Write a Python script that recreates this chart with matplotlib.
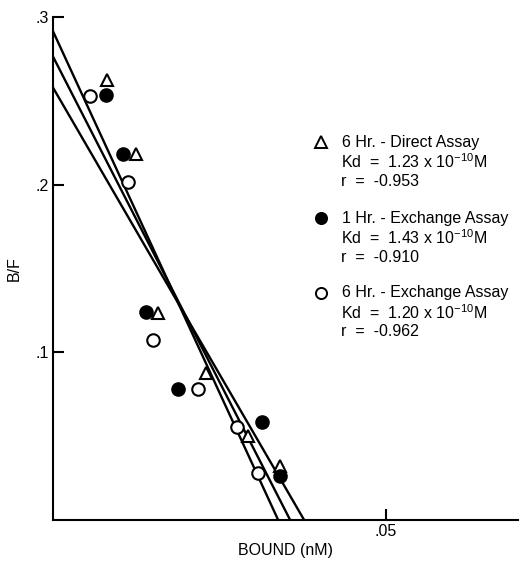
import numpy as np
import matplotlib
matplotlib.use("Agg")
import matplotlib.pyplot as plt

plt.rcParams['font.family'] = ['Liberation Sans', 'DejaVu Sans']
plt.rcParams['mathtext.fontset'] = 'custom'
plt.rcParams['mathtext.rm'] = 'Liberation Sans'

# Scatchard data: bound (nM) vs B/F
tri_x = [0.0081, 0.0125, 0.0158, 0.0229, 0.0293, 0.0341]
tri_y = [0.2627, 0.2185, 0.1236, 0.0878, 0.0501, 0.0322]

fill_x = [0.0080, 0.0105, 0.0140, 0.0187, 0.0314, 0.0340]
fill_y = [0.2537, 0.2185, 0.1242, 0.0782, 0.0585, 0.0263]

open_x = [0.0056, 0.0113, 0.0150, 0.0218, 0.0276, 0.0308]
open_y = [0.2531, 0.2018, 0.1075, 0.0782, 0.0555, 0.0281]

# fitted lines: B/F intercept and bound intercept
fit_yint = [0.2764, 0.2579, 0.2915]
fit_xint = [0.0356, 0.0377, 0.0338]

legend_titles = ["6 Hr. - Direct Assay", "1 Hr. - Exchange Assay", "6 Hr. - Exchange Assay"]
legend_kd = ["1.23", "1.43", "1.20"]
legend_r = ["-0.953", "-0.910", "-0.962"]

fig = plt.figure(figsize=(5.23, 5.65), dpi=100)
ax = fig.add_axes([53/523, 1 - 520/565, (518 - 53)/523, (520 - 17)/565])

for yi, xi in zip(fit_yint, fit_xint):
    ax.plot([0, xi], [yi, 0], color='black', lw=1.7, solid_capstyle='butt', zorder=2)

ax.plot(tri_x, tri_y, ls='none', marker='^', ms=9, mfc='white', mec='black', mew=1.5, zorder=3)
ax.plot(fill_x, fill_y, ls='none', marker='o', ms=9, mfc='black', mec='black', mew=1.5, zorder=3)
ax.plot(open_x, open_y, ls='none', marker='o', ms=9, mfc='white', mec='black', mew=1.5, zorder=4)

ax.set_xlim(0, 0.0698)
ax.set_ylim(0, 0.3)
ax.spines['top'].set_visible(False)
ax.spines['right'].set_visible(False)
ax.spines['left'].set_linewidth(1.5)
ax.spines['bottom'].set_linewidth(1.5)

ax.set_xticks([0.05])
ax.set_xticklabels(['.05'])
ax.set_yticks([0.1, 0.2, 0.3])
ax.set_yticklabels(['.1', '.2', '.3'])
ax.tick_params(direction='in', length=8, width=1.5, labelsize=11.5, pad=3)

ax.set_xlabel("BOUND (nM)", fontsize=11.5, labelpad=3)
ax.set_ylabel("B/F", fontsize=11.5, labelpad=10)

# legend block, drawn by hand
markers = [dict(marker='^', mfc='white'), dict(marker='o', mfc='black'), dict(marker='o', mfc='white')]
row_top = [142, 218, 293]
for i in range(3):
    y0 = row_top[i]
    fig.lines.append(plt.Line2D([321/523], [1 - y0/565], transform=fig.transFigure, ls='none',
                                ms=8, mec='black', mew=1.4, **markers[i]))
    fig.text(342/523, 1 - y0/565, legend_titles[i], fontsize=11.5, va='center', ha='left')
    fig.text(341/523, 1 - (y0 + 20)/565, "Kd  =  " + legend_kd[i] + " x 10$^{\\mathregular{-10}}$M",
             fontsize=11.5, va='center', ha='left')
    fig.text(341/523, 1 - (y0 + 39)/565, "r  =  " + legend_r[i], fontsize=11.5, va='center', ha='left')

fig.savefig("out.png", dpi=100)
